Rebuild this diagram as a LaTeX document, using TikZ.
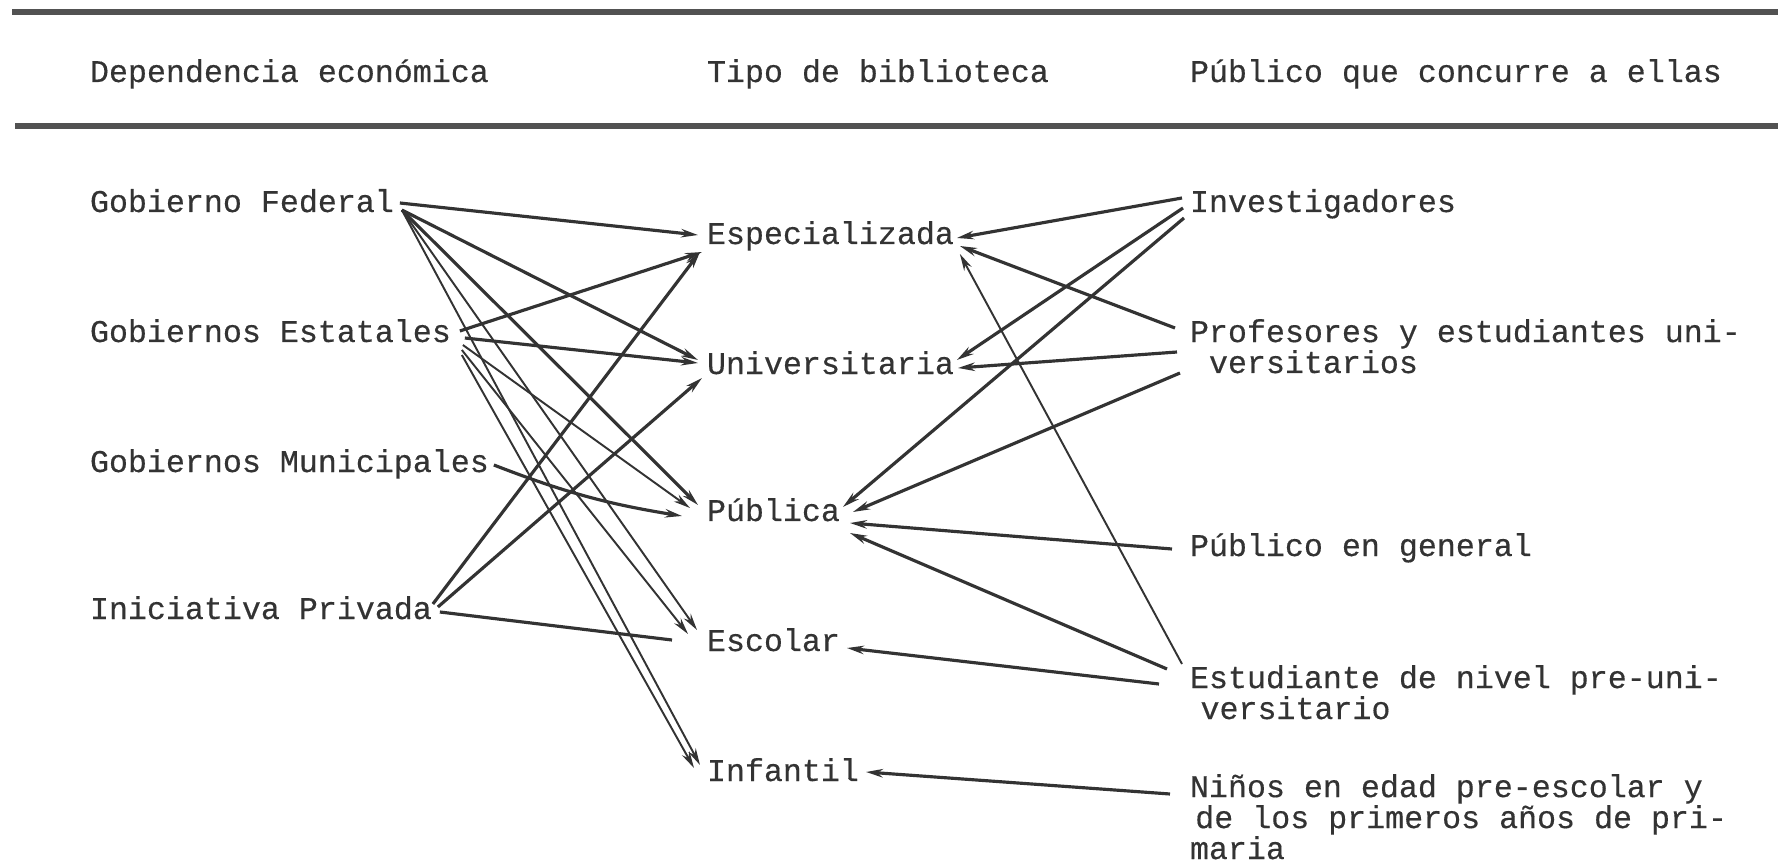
\documentclass[tikz,border=0pt]{standalone}
\usepackage{fontspec}
\setmainfont{Liberation Mono}[FakeBold=0.4]
\usetikzlibrary{arrows.meta}
\definecolor{ink}{HTML}{333333}

\begin{document}
\begin{tikzpicture}[x=0.01cm,y=-0.01cm,
    lab/.style={inner sep=0pt,outer sep=0pt,text=ink,anchor=base west,
      font=\fontsize{9}{8.8}\selectfont,text height=6pt,text depth=1pt},
    block/.style={inner sep=0pt,outer sep=0pt,text=ink,anchor=base west,
      font=\fontsize{9}{8.8}\selectfont,align=left},
    arr/.style={draw=ink,line width=0.9pt,-{Stealth[length=4.8pt,width=2.4pt]}},
    fine/.style={arr,line width=0.55pt},
    rulebar/.style={draw=ink!85,line width=1.5pt}]
    \useasboundingbox (0,0) rectangle (1778,867);

    % rules and column heads
    \draw[rulebar] (12,12) -- (1778,12);
    \draw[rulebar] (15,126) -- (1778,126);
    \node[lab] (hdep) at (90,82) {Dependencia económica};
    \node[lab] (htipo) at (707,82) {Tipo de biblioteca};
    \node[lab] (hpub) at (1190,82) {Público que concurre a ellas};

    % left column
    \node[lab] (gf) at (90,212) {Gobierno Federal};
    \node[lab] (ge) at (90,342) {Gobiernos Estatales};
    \node[lab] (gm) at (90,472) {Gobiernos Municipales};
    \node[lab] (ip) at (90,619) {Iniciativa Privada};

    % middle column
    \node[lab] (esp) at (707,244) {Especializada};
    \node[lab] (univ) at (707,374) {Universitaria};
    \node[lab] (pub) at (707,521) {Pública};
    \node[lab] (esc) at (707,651) {Escolar};
    \node[lab] (inf) at (707,781) {Infantil};

    % right column (blocks sit on their last line)
    \node[lab] (inv) at (1190,212) {Investigadores};
    \node[block] (prof) at (1190,373) {Profesores y estudiantes uni-\\\hspace*{5.4pt}versitarios};
    \node[lab] (peg) at (1190,556) {Público en general};
    \node[block] (est) at (1190,719) {Estudiante de nivel pre-uni-\\\hspace*{3pt}versitario};
    \node[block] (nin) at (1190,859) {Niños en edad pre-escolar y\\\hspace*{1.5pt}de los primeros años de pri-\\maria};

    % dependencia -> tipo
    \draw[arr] ([shift={(6,-9)}]gf.base east) -- ([shift={(-9,-9)}]esp.base west);
    \draw[arr] ([shift={(8,-2)}]gf.base east) -- ([shift={(-9,-14)}]univ.base west);
    \draw[arr] ([shift={(8,-2)}]gf.base east) -- ([shift={(-9,-16)}]pub.base west);
    \draw[fine] ([shift={(8,-2)}]gf.base east) -- ([shift={(-10,-21)}]esc.base west);
    \draw[fine] ([shift={(8,-2)}]gf.base east) -- ([shift={(-7,-16)}]inf.base west);
    \draw[arr] ([shift={(9,-11)}]ge.base east) -- ([shift={(-5,8)}]esp.base west);
    \draw[arr] ([shift={(14,-4)}]ge.base east) -- ([shift={(-9,-11)}]univ.base west);
    \draw[fine] ([shift={(12,3)}]ge.base east) -- ([shift={(-17,-13)}]pub.base west);
    \draw[fine] ([shift={(11,8)}]ge.base east) -- ([shift={(-19,-17)}]esc.base west);
    \draw[fine] ([shift={(11,13)}]ge.base east) -- ([shift={(-13,-13)}]inf.base west);
    \draw[arr] ([shift={(5,-7)}]gm.base east) to[bend right=6] ([shift={(-25,-5)}]pub.base west);
    \draw[arr] ([shift={(1,-15)}]ip.base east) -- ([shift={(-7,8)}]esp.base west);
    \draw[arr] ([shift={(6,-12)}]ip.base east) -- ([shift={(-5,4)}]univ.base west);
    \draw[draw=ink,line width=0.9pt] ([shift={(8,-7)}]ip.base east) -- ([shift={(-35,-11)}]esc.base west);

    % publico -> tipo
    \draw[arr] ([shift={(-8,-14)}]inv.base west) -- ([shift={(3,-6)}]esp.base east);
    \draw[arr] ([shift={(-7,-4)}]inv.base west) -- ([shift={(3,-14)}]univ.base east);
    \draw[arr] ([shift={(-6,6)}]inv.base west) -- ([shift={(3,-14)}]pub.base east);
    \draw[arr] ([shift={(-15,-45)}]prof.base west) -- ([shift={(6,2)}]esp.base east);
    \draw[arr] ([shift={(-13,-21)}]prof.base west) -- ([shift={(4,-6)}]univ.base east);
    \draw[arr] ([shift={(-10,0)}]prof.base west) -- ([shift={(13,-9)}]pub.base east);
    \draw[arr] ([shift={(-18,-7)}]peg.base west) -- ([shift={(10,2)}]pub.base east);
    \draw[fine] ([shift={(-8,-55)}]est.base west) -- ([shift={(6,10)}]esp.base east);
    \draw[arr] ([shift={(-23,-50)}]est.base west) -- ([shift={(10,12)}]pub.base east);
    \draw[arr] ([shift={(-31,-35)}]est.base west) -- ([shift={(7,-3)}]esc.base east);
    \draw[arr] ([shift={(-20,-65)}]nin.base west) -- ([shift={(7,-9)}]inf.base east);
\end{tikzpicture}
\end{document}
